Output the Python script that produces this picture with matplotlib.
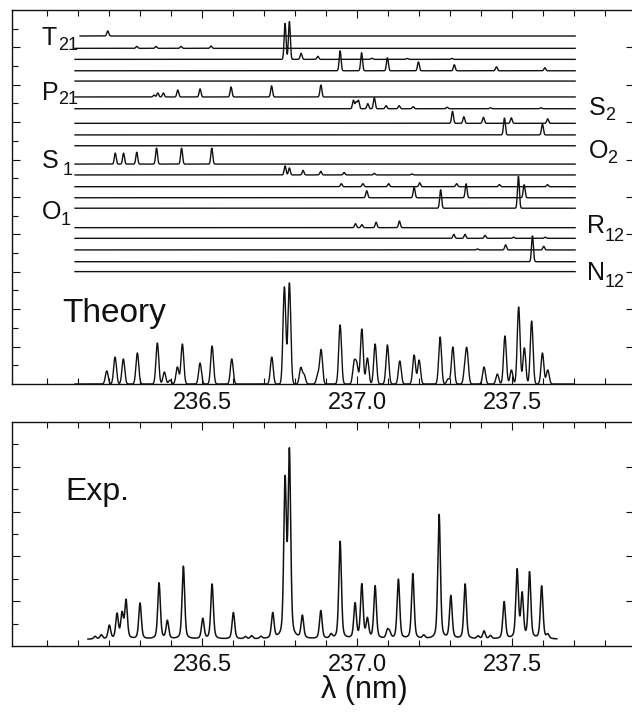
import numpy as np
import matplotlib
matplotlib.use('Agg')
import matplotlib.pyplot as plt
from matplotlib.ticker import FixedLocator, NullFormatter

plt.rcParams['font.family'] = ['Liberation Sans', 'DejaVu Sans']

# ---------------- data ----------------
# Theory (summed) spectrum: line centres (nm) and peak heights
theory_pos = [236.1926, 236.2194, 236.2461, 236.2913, 236.3558, 236.3784, 236.3968,
              236.4203, 236.4365, 236.4935, 236.5323, 236.5958, 236.7248, 236.7655,
              236.7816, 236.8184, 236.8290, 236.8732, 236.8839, 236.9452, 236.9903,
              236.9990, 237.0152, 237.0332, 237.0581, 237.0977, 237.1377, 237.1839,
              237.2000, 237.2677, 237.2935, 237.3087, 237.3484, 237.3548, 237.4094,
              237.4523, 237.4768, 237.4977, 237.5210, 237.5394, 237.5629, 237.5977,
              237.6148]
theory_amp = [0.70, 1.44, 1.34, 1.66, 2.19, 0.64, 0.21,
              0.91, 2.14, 1.12, 2.03, 1.34, 1.44, 5.19,
              5.40, 0.86, 0.48, 0.48, 1.82, 3.16, 1.10,
              1.00, 2.94, 1.39, 2.14, 2.09, 1.23, 1.55,
              1.28, 2.51, 0.27, 1.98, 0.90, 1.55, 0.91,
              0.53, 2.57, 0.75, 4.12, 1.93, 3.37, 1.66,
              0.75]

# Experimental spectrum: line centres (nm) and heights above the baseline
exp_pos = [236.1550, 236.1750, 236.2010, 236.2258, 236.2419, 236.2548, 236.3000,
           236.3613, 236.3881, 236.4397, 236.5023, 236.5323, 236.6010, 236.6400,
           236.6600, 236.6900, 236.7280, 236.7677, 236.7816, 236.8235, 236.8829,
           236.9160, 236.9452, 236.9935, 237.0152, 237.0332, 237.0581, 237.0977,
           237.1050, 237.1332, 237.1797, 237.2150, 237.2645, 237.3023, 237.3484,
           237.3900, 237.4094, 237.4300, 237.4742, 237.5161, 237.5323, 237.5561,
           237.5952, 237.6150]
exp_amp = [0.12, 0.18, 0.60, 1.10, 1.10, 1.70, 1.60,
           2.50, 0.80, 3.25, 0.90, 2.45, 1.18, 0.10,
           0.14, 0.10, 1.12, 6.90, 8.20, 1.00, 1.25,
           0.18, 4.35, 1.55, 2.40, 0.85, 2.35, 0.35,
           0.25, 2.65, 2.90, 0.14, 5.55, 1.90, 2.45,
           0.12, 0.35, 0.14, 1.65, 3.05, 1.95, 2.95,
           2.35, 0.18]
exp_baseline = 0.3
exp_range = [236.132, 237.644]

# Individual branch traces (stacked, top to bottom)
trace_pos = [
    [236.1958],
    [236.2894, 236.3516, 236.4323, 236.5290],
    [236.7677, 236.7816, 236.8194, 236.8732, 237.0474, 237.1613, 237.3055],
    [236.9452, 237.0145, 237.0977, 237.1977, 237.3135, 237.4494, 237.6055],
    [],
    [236.3452, 236.3571, 236.3752, 236.4216, 236.4935, 236.5935, 236.7242, 236.8832],
    [236.9881, 236.9968, 237.0042, 237.0345, 237.0555, 237.0935, 237.1355, 237.1806,
     237.2903, 237.4300, 237.5929],
    [237.3077, 237.3442, 237.4074, 237.4974, 237.6145],
    [237.4752, 237.5977],
    [],
    [236.2200, 236.2468, 236.2894, 236.3532, 236.4339, 236.5313],
    [236.7677, 236.7816, 236.8258, 236.8829, 236.9581, 237.0555, 237.1768],
    [236.9490, 237.0187, 237.1016, 237.2019, 237.3210, 237.4590, 237.6142],
    [237.0310, 237.1839, 237.3516, 237.5387],
    [237.2694, 237.5203],
    [236.9948, 237.0155, 237.0613, 237.1365],
    [237.3119, 237.3480, 237.4129, 237.5048, 237.6065],
    [237.3881, 237.4790, 237.6019],
    [237.5655],
    [],
]
trace_amp = [
    [0.27],
    [0.10, 0.10, 0.10, 0.12],
    [1.93, 2.03, 0.32, 0.16, 0.06, 0.05, 0.05],
    [1.07, 0.96, 0.70, 0.48, 0.32, 0.21, 0.16],
    [],
    [0.10, 0.21, 0.21, 0.37, 0.43, 0.53, 0.59, 0.64],
    [0.45, 0.35, 0.45, 0.27, 0.59, 0.16, 0.16, 0.11, 0.08, 0.05, 0.05],
    [0.64, 0.35, 0.32, 0.29, 0.24],
    [0.91, 0.59],
    [],
    [0.59, 0.59, 0.64, 0.86, 0.86, 0.86],
    [0.48, 0.37, 0.24, 0.19, 0.13, 0.08, 0.05],
    [0.16, 0.16, 0.16, 0.21, 0.16, 0.11, 0.11],
    [0.37, 0.56, 0.75, 0.70],
    [0.99, 1.71],
    [0.21, 0.16, 0.29, 0.35],
    [0.21, 0.21, 0.16, 0.06, 0.06],
    [0.05, 0.27, 0.19],
    [1.39],
    [],
]
trace_range = [236.0903, 237.7032]

branch_main = ['T', 'P', 'S', 'O', 'S', 'O', 'R', 'N']
branch_sub = ['21', '21', '1', '1', '2', '2', '12', '12']

tick_major = [236.5, 237.0, 237.5]
tick_labels = ['236.5', '237.0', '237.5']

# ---------------- layout ----------------
W, H = 632, 717
DPI = 100
trace_offsets = [18.61, 17.95, 17.36, 16.75, 16.20, 15.35, 14.72, 13.94, 13.32, 12.74,
                 11.76, 11.18, 10.55, 9.96, 9.40, 8.36, 7.79, 7.17, 6.54, 6.01]
# (x main, baseline main, x sub, baseline sub) in pixels
label_layout = [(42, 45, 58, 50), (42, 100, 58, 104), (42, 168, 63, 175), (42, 219, 61, 225),
                (589, 115, 605, 120), (589, 158, 607, 163), (587, 233, 605, 241),
                (587, 280, 605, 287)]
XLIM = (235.887, 237.893)
INK = '#111111'


def profile(x, pos, amp, sigma, lor=0.0, gam=0.004):
    y = np.zeros_like(x)
    for p, a in zip(pos, amp):
        g = np.exp(-0.5 * ((x - p) / sigma) ** 2)
        l = 1.0 / (1.0 + ((x - p) / gam) ** 2)
        y += a * ((1 - lor) * g + lor * l)
    return y


def fx(px):
    return px / W


def fy(py):
    return 1 - py / H


fig = plt.figure(figsize=(W / DPI, H / DPI), dpi=DPI)

ax1 = fig.add_axes([fx(12), fy(384), 622 / W, 374 / H])
ax2 = fig.add_axes([fx(12), fy(646), 622 / W, 224 / H])

# stacked branch traces
for i, off in enumerate(trace_offsets):
    start = 236.1065 if i == 0 else trace_range[0]
    x = np.linspace(start, trace_range[1], 3000)
    y = off + profile(x, trace_pos[i], trace_amp[i], 0.003)
    ax1.plot(x, y, color=INK, lw=1.0, solid_joinstyle='miter')

# theory sum
xt = np.linspace(236.09, 237.70, 5000)
yt = profile(xt, theory_pos, theory_amp, 0.0045)
ax1.plot(xt, yt, color=INK, lw=1.0)

# experiment
xe = np.linspace(exp_range[0], exp_range[1], 5000)
ye = exp_baseline + profile(xe, exp_pos, exp_amp, 0.0042, lor=0.4, gam=0.005)
ax2.plot(xe, ye, color=INK, lw=1.1)

for ax, ymax in ((ax1, 20), (ax2, 10)):
    ax.set_xlim(*XLIM)
    ax.set_ylim(0, ymax)
    ax.xaxis.set_major_locator(FixedLocator(tick_major))
    ax.xaxis.set_minor_locator(FixedLocator([round(236.0 + 0.1 * k, 1) for k in range(19)]))
    ax.set_xticklabels(tick_labels)
    ax.yaxis.set_major_locator(FixedLocator(list(range(2, ymax, 2))))
    ax.yaxis.set_minor_locator(FixedLocator(list(range(1, ymax, 2))))
    ax.yaxis.set_major_formatter(NullFormatter())
    ax.tick_params(which='both', direction='in', top=True, right=True,
                   width=0.8, color=INK)
    ax.tick_params(which='major', length=6, labelsize=17, pad=6, labelcolor=INK)
    ax.tick_params(which='minor', length=4)
    ax.tick_params(axis='y', which='minor', right=False)
    ax.spines['right'].set_visible(False)
    for s in ('left', 'top', 'bottom'):
        ax.spines[s].set_linewidth(1.0)
        ax.spines[s].set_color(INK)

# branch labels
for (m, s), (xm, ym, xs, ys) in zip(zip(branch_main, branch_sub), label_layout):
    fig.text(fx(xm), fy(ym), m, fontsize=18, ha='left', va='baseline', color=INK)
    fig.text(fx(xs), fy(ys), s, fontsize=13, ha='left', va='baseline', color=INK)

fig.text(fx(62), fy(322), 'Theory', fontsize=24, ha='left', va='baseline', color=INK)
fig.text(fx(65), fy(500), 'Exp.', fontsize=23, ha='left', va='baseline', color=INK)
fig.text(fx(364), fy(698), 'λ (nm)', fontsize=22, ha='center', va='baseline', color=INK)

fig.savefig('out.png', dpi=DPI, facecolor='white')
